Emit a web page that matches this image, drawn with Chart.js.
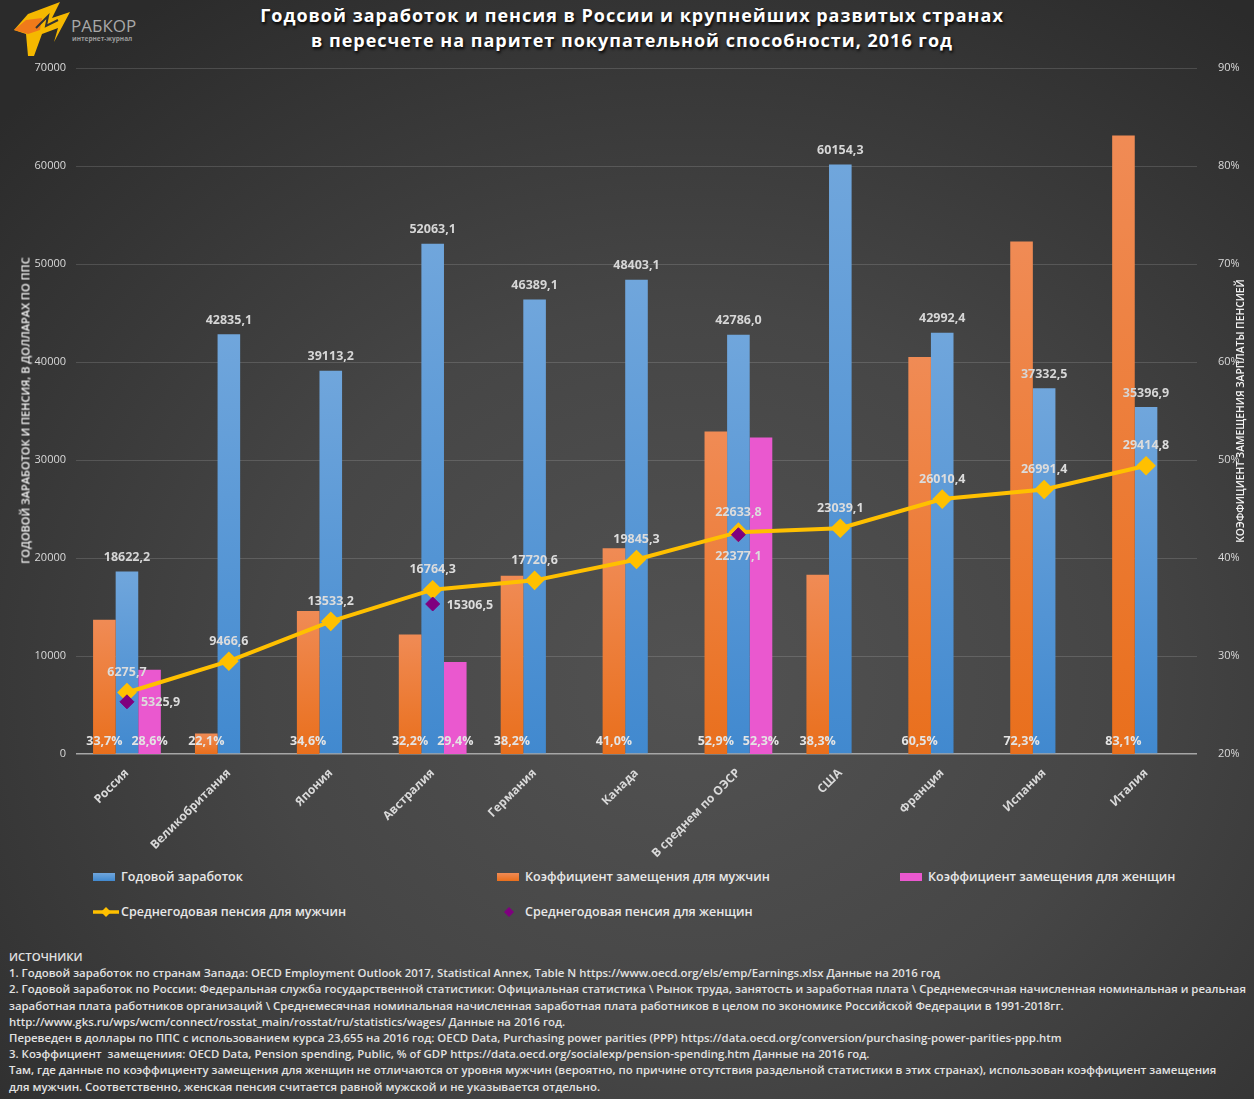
<!DOCTYPE html>
<html lang="ru">
<head>
<meta charset="utf-8">
<script src="https://cdn.jsdelivr.net/npm/chart.js@4.4.1/dist/chart.umd.min.js"></script>
<style>
  html, body { margin: 0; padding: 0; }
  body {
    width: 1254px; height: 1099px; overflow: hidden; position: relative;
    background: radial-gradient(ellipse 75% 75% at 55% 62%, #525252 0%, #464646 45%, #2b2b2b 100%);
    font-family: "Open Sans", "Noto Sans", sans-serif; color: #e6e6e6;
  }
  #chart { position: absolute; left: 0; top: 0; }
  .title {
    position: absolute; left: 0; width: 1264px; text-align: center; top: 3px;
    font-weight: 700; font-size: 18px; line-height: 25px; letter-spacing: 1px;
    color: #fff; text-shadow: 1px 2px 3px #000;
  }
  .axis-title {
    position: absolute; font-weight: 600; color: #f2f2f2;
    white-space: nowrap; transform-origin: center center;
  }
  .legend-item { position: absolute; font-size: 12.5px; font-weight: 600; color: #e8e8e8; white-space: nowrap; }
  .swatch { position: absolute; width: 22px; height: 8px; }
  .sources {
    position: absolute; left: 9px; top: 949px; font-size: 11.4px; font-weight: 600;
    line-height: 16.2px; color: #e2e2e2; white-space: nowrap;
  }
</style>
</head>
<body>
<svg style="position:absolute;left:8px;top:0" width="130" height="60" viewBox="0 0 130 60">
  <polygon points="20,14 52,2 44,18 62,12 46,42 50,28 34,34 26,56 20,56 18,34 6,30" fill="#f5b800"/>
  <polygon points="6,30 18,20 34,18 32,30 20,34" fill="#f07a1a"/>
  <polyline points="28,28 40,16 38,26 50,20" stroke="#333" stroke-width="2" fill="none"/>
  <text x="63" y="32" font-family="Open Sans, sans-serif" font-size="17" fill="#a8a8a8">РАБКОР</text>
  <text x="64" y="41" font-family="Open Sans, sans-serif" font-size="6.5" font-weight="700" fill="#9a9a9a">интернет-журнал</text>
</svg>
<div class="title">Годовой заработок и пенсия в России и крупнейших развитых странах<br>в пересчете на паритет покупательной способности, 2016 год</div>
<canvas id="chart" width="1254" height="860"></canvas>
<div class="axis-title" style="left:-130px;top:403px;width:310px;text-align:center;font-size:11px;transform:rotate(-90deg)">ГОДОВОЙ ЗАРАБОТОК И ПЕНСИЯ, В ДОЛЛАРАХ ПО ППС</div>
<div class="axis-title" style="left:1090px;top:404px;width:300px;text-align:center;font-size:10.3px;transform:rotate(-90deg)">КОЭФФИЦИЕНТ ЗАМЕЩЕНИЯ ЗАРПЛАТЫ ПЕНСИЕЙ</div>

<div class="swatch" style="left:93px;top:873px;background:linear-gradient(#70a6dc,#4189cf)"></div>
<div class="legend-item" style="left:121px;top:868px">Годовой заработок</div>
<div class="swatch" style="left:497px;top:873px;background:linear-gradient(#f08b55,#e96f1c)"></div>
<div class="legend-item" style="left:525px;top:868px">Коэффициент замещения для мужчин</div>
<div class="swatch" style="left:900px;top:873px;background:#ea58cf"></div>
<div class="legend-item" style="left:928px;top:868px">Коэффициент замещения для женщин</div>
<svg style="position:absolute;left:92px;top:905px" width="28" height="14">
  <line x1="1" y1="7" x2="27" y2="7" stroke="#ffc000" stroke-width="3.5"/>
  <polygon points="14,2 19,7 14,12 9,7" fill="#ffc000"/>
</svg>
<div class="legend-item" style="left:121px;top:903px">Среднегодовая пенсия для мужчин</div>
<svg style="position:absolute;left:502px;top:905px" width="14" height="14">
  <polygon points="7,2 12,7 7,12 2,7" fill="#7f007f"/>
</svg>
<div class="legend-item" style="left:525px;top:903px">Среднегодовая пенсия для женщин</div>

<div class="sources">
ИСТОЧНИКИ<br>
1. Годовой заработок по странам Запада: OECD Employment Outlook 2017, Statistical Annex, Table N https://www.oecd.org/els/emp/Earnings.xlsx Данные на 2016 год<br>
2. Годовой заработок по России: Федеральная служба государственной статистики: Официальная статистика \ Рынок труда, занятость и заработная плата \ Среднемесячная начисленная номинальная и реальная<br>
заработная плата работников организаций \ Среднемесячная номинальная начисленная заработная плата работников в целом по экономике Российской Федерации в 1991-2018гг.<br>
http://www.gks.ru/wps/wcm/connect/rosstat_main/rosstat/ru/statistics/wages/ Данные на 2016 год.<br>
Переведен в доллары по ППС с использованием курса 23,655 на 2016 год: OECD Data, Purchasing power parities (PPP) https://data.oecd.org/conversion/purchasing-power-parities-ppp.htm<br>
3. Коэффициент&nbsp; замещениия: OECD Data, Pension spending, Public, % of GDP https://data.oecd.org/socialexp/pension-spending.htm Данные на 2016 год.<br>
Там, где данные по коэффициенту замещения для женщин не отличаются от уровня мужчин (вероятно, по причине отсутствия раздельной статистики в этих странах), использован коэффициент замещения<br>
для мужчин. Соответственно, женская пенсия считается равной мужской и не указывается отдельно.
</div>

<script>
// ─── Data ────────────────────────────────────────────────────────────────────
const countries = ['Россия', 'Великобритания', 'Япония', 'Австралия', 'Германия', 'Канада',
                   'В среднем по ОЭСР', 'США', 'Франция', 'Испания', 'Италия'];
const annualEarnings = [18622.2, 42835.1, 39113.2, 52063.1, 46389.1, 48403.1, 42786.0, 60154.3, 42992.4, 37332.5, 35396.9];
const replacementMen   = [33.7, 22.1, 34.6, 32.2, 38.2, 41.0, 52.9, 38.3, 60.5, 72.3, 83.1];
const replacementWomen = [28.6, null, null, 29.4, null, null, 52.3, null, null, null, null];
const pensionMen   = [6275.7, 9466.6, 13533.2, 16764.3, 17720.6, 19845.3, 22633.8, 23039.1, 26010.4, 26991.4, 29414.8];
const pensionWomen = [5325.9, null, null, 15306.5, null, null, 22377.1, null, null, null, null];
const leftTicks  = { min: 0, max: 70000, step: 10000 };
const rightTicks = { min: 20, max: 90, step: 10 };

// ─── Helpers ─────────────────────────────────────────────────────────────────
const fmt = v => v.toFixed(1).replace('.', ',');

function barGradient(top, bottom, axis) {
  return ctx => {
    const chart = ctx.chart;
    if (!chart.chartArea || ctx.raw == null) return bottom;
    const sc = chart.scales[axis];
    const y = sc.getPixelForValue(ctx.raw);
    const g = chart.ctx.createLinearGradient(0, y, 0, chart.chartArea.bottom);
    g.addColorStop(0, top);
    g.addColorStop(1, bottom);
    return g;
  };
}

const labelsPlugin = {
  id: 'valueLabels',
  afterDatasetsDraw(chart) {
    const c = chart.ctx;
    const bottom = chart.chartArea.bottom;
    c.save();
    c.font = 'bold 12.5px "Open Sans", sans-serif';
    c.textBaseline = 'middle';
    c.textAlign = 'center';
    // earnings above blue bars
    c.fillStyle = '#d6d6d6';
    chart.getDatasetMeta(1).data.forEach((el, i) => {
      c.fillText(fmt(annualEarnings[i]), el.x, el.y - 14);
    });
    // replacement rates near base
    c.fillStyle = '#e4e4e4';
    chart.getDatasetMeta(0).data.forEach((el, i) => {
      c.fillText(fmt(replacementMen[i]) + '%', el.x, bottom - 13);
    });
    chart.getDatasetMeta(2).data.forEach((el, i) => {
      if (replacementWomen[i] == null) return;
      c.fillText(fmt(replacementWomen[i]) + '%', el.x, bottom - 13);
    });
    // pensions
    c.fillStyle = '#dcdcdc';
    chart.getDatasetMeta(3).data.forEach((el, i) => {
      c.fillText(fmt(pensionMen[i]), el.x, el.y - 20);
    });
    chart.getDatasetMeta(4).data.forEach((el, i) => {
      if (pensionWomen[i] == null) return;
      if (i === 6) {
        c.textAlign = 'center';
        c.fillText(fmt(pensionWomen[i]), el.x, el.y + 22);
      } else {
        c.textAlign = 'left';
        c.fillText(fmt(pensionWomen[i]), el.x + 14, el.y + 1);
      }
    });
    c.restore();
  }
};

// ─── Chart ───────────────────────────────────────────────────────────────────
Chart.defaults.font.family = '"Open Sans", sans-serif';
Chart.defaults.color = '#d9d9d9';

new Chart(document.getElementById('chart'), {
  type: 'bar',
  data: {
    labels: countries,
    datasets: [
      { label: 'Коэффициент замещения для мужчин', data: replacementMen, yAxisID: 'y2', order: 2,
        backgroundColor: barGradient('#f08b55', '#e96f1c', 'y2') },
      { label: 'Годовой заработок', data: annualEarnings, yAxisID: 'y', order: 2,
        backgroundColor: barGradient('#70a6dc', '#4189cf', 'y') },
      { label: 'Коэффициент замещения для женщин', data: replacementWomen, yAxisID: 'y2', order: 2,
        backgroundColor: '#ea58cf' },
      { type: 'line', label: 'Среднегодовая пенсия для мужчин', data: pensionMen, yAxisID: 'y', order: 1,
        borderColor: '#ffc000', backgroundColor: '#ffc000', borderWidth: 4,
        pointStyle: 'rectRot', pointRadius: 7, pointHoverRadius: 7, tension: 0 },
      { type: 'line', label: 'Среднегодовая пенсия для женщин', data: pensionWomen, yAxisID: 'y', order: 0,
        showLine: false, backgroundColor: '#7f007f', borderColor: '#7f007f',
        pointStyle: 'rectRot', pointRadius: 7, pointHoverRadius: 7 },
    ],
  },
  options: {
    responsive: false,
    animation: false,
    devicePixelRatio: 1,
    layout: { padding: { top: 68, left: 0, right: 0, bottom: 0 } },
    datasets: { bar: { categoryPercentage: 0.665, barPercentage: 1 } },
    plugins: { legend: { display: false }, tooltip: { enabled: false } },
    scales: {
      x: {
        grid: { display: false },
        border: { display: false },
        ticks: { minRotation: 45, maxRotation: 45, padding: 4,
                 font: { size: 12, weight: 'bold' }, color: '#d9d9d9' },
        afterFit: s => { s.height = 106; },
      },
      y: {
        position: 'left', min: leftTicks.min, max: leftTicks.max,
        ticks: { stepSize: leftTicks.step, padding: 10, font: { size: 11 }, color: '#d9d9d9',
                 callback: v => String(v) },
        grid: { color: ctx => ctx.tick.value === 0 ? '#a6a6a6' : 'rgba(255,255,255,0.14)',
                lineWidth: ctx => ctx.tick.value === 0 ? 1.5 : 1, drawTicks: false },
        border: { display: false },
        afterFit: s => { s.width = 76; },
      },
      y2: {
        position: 'right', min: rightTicks.min, max: rightTicks.max,
        ticks: { stepSize: rightTicks.step, padding: 13, font: { size: 11 }, color: '#d9d9d9',
                 callback: v => v + '%' },
        grid: { display: false },
        border: { display: false },
        afterFit: s => { s.width = 57; },
      },
    },
  },
  plugins: [labelsPlugin],
});
</script>
</body>
</html>
